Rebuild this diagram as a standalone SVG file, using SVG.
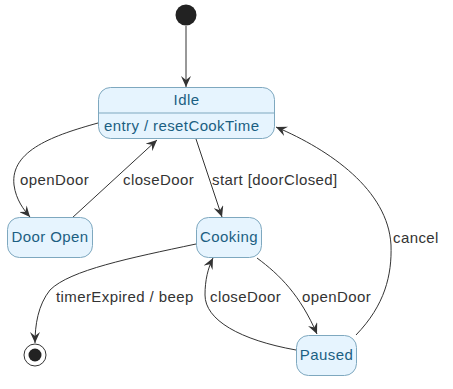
<svg xmlns="http://www.w3.org/2000/svg" width="453" height="389" viewBox="0 0 453 389">
<style>
.node rect{fill:#e6f4fe;stroke:#7ea8bf;stroke-width:1}
.nt{font-family:"Liberation Sans",Arial,sans-serif;font-size:15px;letter-spacing:0.4px;fill:#1b5f82}
.lbl{font-family:"Liberation Sans",Arial,sans-serif;font-size:15px;letter-spacing:0.4px;fill:#333}
.edge{fill:none;stroke:#333;stroke-width:1;marker-end:url(#arr)}
</style>
<defs>
<marker id="arr" markerWidth="12" markerHeight="10" refX="11" refY="5" orient="auto" markerUnits="userSpaceOnUse">
<path d="M0,0 L11,5 L0,10 L4,5 z" fill="#333"/>
</marker>
</defs>
<rect width="453" height="389" fill="#fff"/>
<g id="connectors">
<path class="edge" d="M186,26 L186,87"/>
<path class="edge" d="M98,123 C55,135 10,150 14,185 C16,200 24,210 30,217"/>
<path class="edge" d="M72,218 L157,140"/>
<path class="edge" d="M196,139 L222,217"/>
<path class="edge" d="M257,258 C280,275 300,295 317,334"/>
<path class="edge" d="M296,350 C240,340 205,320 205,295 C205,280 208,268 213,258"/>
<path class="edge" d="M356,335 C385,305 392,275 391,245 C388,190 330,150 276,127"/>
<path class="edge" d="M196,244 C130,258 70,270 50,290 C38,305 35,325 35,343"/>
<text class="lbl" x="20" y="185">openDoor</text>
<text class="lbl" x="123" y="185">closeDoor</text>
<text class="lbl" x="212" y="185">start [doorClosed]</text>
<text class="lbl" x="393" y="243">cancel</text>
<text class="lbl" x="56" y="302">timerExpired / beep</text>
<text class="lbl" x="210" y="302">closeDoor</text>
<text class="lbl" x="302" y="302">openDoor</text>
</g>
<g id="start"><circle cx="186" cy="15" r="10.5" fill="#222"/></g>
<g id="idle" class="node">
<rect x="98.5" y="87.5" width="176" height="51" rx="12"/>
<line x1="98.5" y1="113" x2="274.5" y2="113" stroke="#7ea8bf"/>
<text class="nt" x="186.5" y="105" text-anchor="middle">Idle</text>
<text class="nt" x="104" y="131">entry / resetCookTime</text>
</g>
<g id="dooropen" class="node">
<rect x="7.5" y="217.5" width="85" height="40" rx="12"/>
<text class="nt" x="50" y="242" text-anchor="middle">Door Open</text>
</g>
<g id="cooking" class="node">
<rect x="196.5" y="217.5" width="65" height="40" rx="12"/>
<text class="nt" x="229" y="242" text-anchor="middle">Cooking</text>
</g>
<g id="paused" class="node">
<rect x="296.5" y="335.5" width="60" height="40" rx="12"/>
<text class="nt" x="326.5" y="360" text-anchor="middle">Paused</text>
</g>
<g id="final">
<circle cx="35" cy="355" r="11" fill="#fff" stroke="#333" stroke-width="1"/>
<circle cx="35" cy="355" r="6.5" fill="#222"/>
</g>
</svg>
